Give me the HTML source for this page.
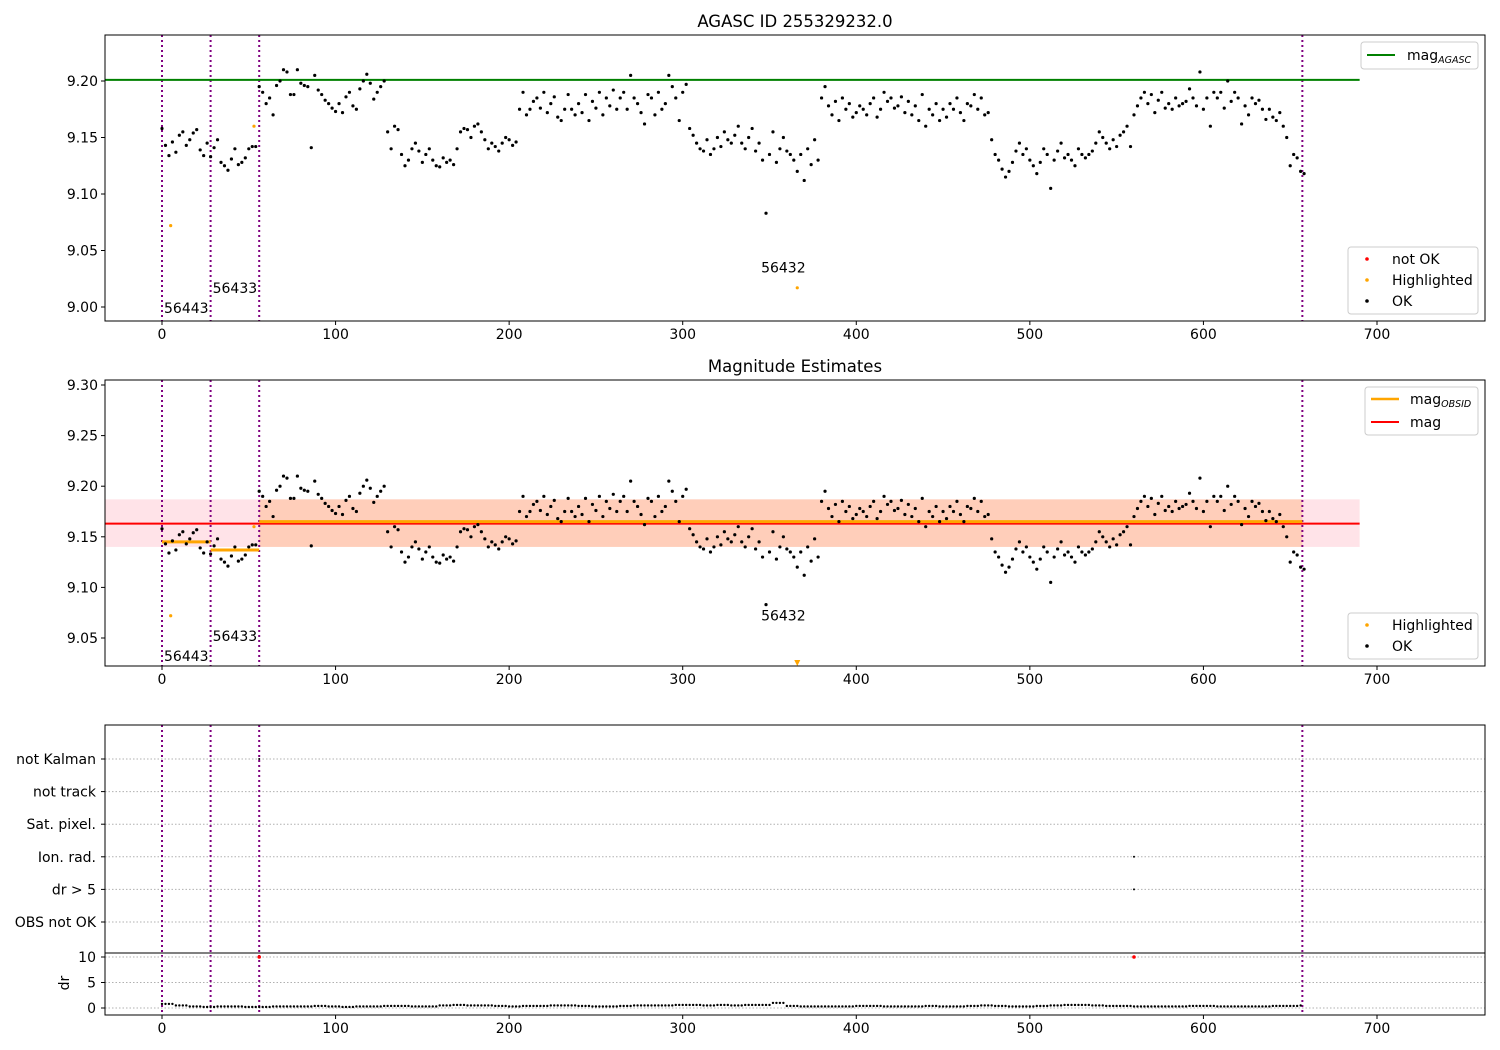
<!DOCTYPE html>
<html><head><meta charset="utf-8"><style>
body{margin:0;background:#fff}
svg{display:block;font-family:"DejaVu Sans","Liberation Sans",sans-serif}
</style></head><body>
<svg id="chart" width="1500" height="1050" viewBox="0 0 1500 1050"></svg>
<script>
// ---- data ----
const magStart = 0, magStep = 2;
const mags = [
9.158,9.143,9.134,9.146,9.137,9.152,9.155,9.143,9.148,9.154,9.157,9.139,9.134,9.145,
9.133,9.141,9.148,9.128,9.125,9.121,9.131,9.140,9.126,9.128,9.132,9.140,9.142,9.142,
9.195,9.19,9.18,9.185,9.17,9.196,9.2,9.21,9.208,9.188,9.188,9.21,9.198,9.196,9.195,9.141,9.205,9.192,9.188,9.183,9.18,9.176,9.173,9.18,9.172,9.186,9.19,9.178,9.175,9.193,9.2,9.206,9.198,9.184,9.19,9.195,9.2,
9.155,9.14,9.16,9.157,9.135,9.125,9.13,9.14,9.145,9.138,9.128,9.135,9.14,9.13,9.125,9.124,9.132,9.128,9.13,9.126,9.14,
9.155,9.158,9.157,9.15,9.16,9.162,9.155,9.148,9.14,9.145,9.142,9.138,9.145,9.15,9.148,9.143,9.146,
9.175,9.19,9.17,9.175,9.182,9.185,9.176,9.19,9.172,9.18,9.186,9.168,9.165,9.175,9.188,9.175,9.17,9.18,9.172,9.188,9.165,9.182,9.176,9.19,9.17,9.185,9.178,9.192,9.175,9.185,9.19,9.175,9.205,9.185,9.18,9.172,9.162,9.188,9.185,9.17,9.19,9.175,9.18,9.205,9.195,9.185,9.165,9.19,
9.197,9.158,9.152,9.145,9.14,9.138,9.148,9.135,9.14,9.15,9.142,9.155,9.148,9.145,9.152,9.16,9.145,9.14,9.15,9.158,9.138,9.145,9.13,9.083,9.135,9.155,9.128,9.14,9.15,9.138,9.135,9.13,9.12,9.135,9.112,9.14,9.126,9.148,9.13,
9.185,9.195,9.178,9.17,9.182,9.165,9.185,9.175,9.18,9.168,9.172,9.178,9.175,9.17,9.18,9.185,9.168,9.175,9.19,9.182,9.185,9.176,9.178,9.186,9.172,9.182,9.17,9.178,9.165,9.188,9.16,9.175,9.17,9.18,9.165,9.175,9.168,9.18,9.175,9.185,9.172,9.165,9.18,9.178,9.188,9.175,9.185,9.17,9.172,
9.148,9.135,9.13,9.122,9.115,9.12,9.128,9.138,9.145,9.135,9.14,9.13,9.125,9.118,9.128,9.14,9.135,9.105,9.13,9.138,9.145,9.132,9.135,9.13,9.125,9.14,9.135,9.132,9.135,9.138,9.145,9.155,9.15,9.145,9.14,9.148,9.142,9.152,9.155,9.16,
9.142,9.17,9.178,9.185,9.19,9.18,9.188,9.172,9.183,9.19,9.176,9.18,9.175,9.185,9.178,9.18,9.182,9.193,9.185,9.178,9.208,9.175,9.185,9.16,9.19,9.185,9.19,9.176,9.2,9.182,9.19,9.185,9.162,9.178,9.17,9.185,9.18,9.183,9.175,9.166,9.175,9.168,9.165,9.172,9.16,
9.15,9.125,9.135,9.132,9.12,9.118];
const hiIdx = [5, 53, 366];
const hiMag = [9.072, 9.16, 9.017];
const obsBounds = [0, 28, 56, 657];
const obsNames = ["56443", "56433", "56432"];
const obsLabelIdx = [0, 28, 344];
const obsLabelMag = [8.999, 9.017, 9.035];
const obsMeans = [9.145, 9.137, 9.165];
const magAgasc = 9.201, magMean = 9.163, magLo = 9.140, magHi = 9.187;
const drStep = 8;
const drVals = [0.8,0.5,0.3,0.2,0.3,0.3,0.2,0.2,0.3,0.3,0.3,0.4,0.3,0.2,0.3,0.3,0.4,0.4,0.3,0.3,0.5,0.6,0.5,0.5,0.4,0.3,0.4,0.4,0.5,0.5,0.4,0.3,0.3,0.4,0.5,0.5,0.5,0.6,0.6,0.5,0.6,0.5,0.6,0.6,1.0,0.4,0.3,0.3,0.3,0.3,0.4,0.4,0.3,0.3,0.3,0.4,0.3,0.3,0.4,0.5,0.4,0.3,0.3,0.4,0.5,0.6,0.6,0.5,0.4,0.4,0.3,0.3,0.3,0.3,0.4,0.4,0.3,0.3,0.3,0.3,0.4,0.4,0.5];
const drRedIdx = [56, 560];
const drRedVal = [10, 10];
const flagNames = ["not Kalman","not track","Sat. pixel.","Ion. rad.","dr > 5","OBS not OK"];
const flagIdx = [56, 560, 560];
const flagRow = [0, 3, 4];
const xTicks = [0,100,200,300,400,500,600,700];
const yTicksA = [9.00,9.05,9.10,9.15,9.20];
const yTicksB = [9.05,9.10,9.15,9.20,9.25,9.30];
const drTicks = [0,5,10];

// ---- scales ----
const X = v => 162 + v*1.7357;
const YA = m => 81 + (9.2-m)*1130;
const YB = m => 385 + (9.3-m)*1012;
const YD = d => 1008 - d*5.1;
const flagY = i => 759 + i*32.6;

const svg = document.getElementById('chart');
const NS = 'http://www.w3.org/2000/svg';
const FS = 14;
function mk(tag, attrs, parent){const e=document.createElementNS(NS,tag);for(const k in attrs)e.setAttribute(k,attrs[k]);(parent||svg).appendChild(e);return e;}
function txt(x,y,s,anchor,size,parent){const t=mk('text',{x:x,y:y,'text-anchor':anchor||'start','font-size':size||FS,fill:'#000'},parent);t.textContent=s;return t;}

const L=105,R=1485;
function clip(id,y0,y1){const c=mk('clipPath',{id:id});mk('rect',{x:L,y:y0,width:R-L,height:y1-y0},c);}
clip('ca',35,321);clip('cb',380,666);clip('cd',953,1015);

function xAxis(yb,name){
  const g=mk('g',{});
  
  
  xTicks.forEach(v=>{mk('line',{x1:X(v),x2:X(v),y1:yb,y2:yb+4,stroke:'#000'},g);txt(X(v),yb+18,String(v),'middle',FS,g);});
}
function vlines(g,y0,y1){obsBounds.forEach(b=>{const l=mk('line',{x1:X(b),x2:X(b),y1:y0,y2:y1,stroke:'#800080','stroke-width':2,'stroke-dasharray':'2,3'},g);});}
function dots(g,Y){mags.forEach((m,i)=>{const c=mk('circle',{cx:X(magStart+i*magStep),cy:Y(m),r:1.6,fill:'#000'},g);});}

// ===== Panel A =====
const ga=mk('g',{'clip-path':'url(#ca)'});


vlines(ga,35,321);
const gl=mk('line',{x1:L,x2:X(690),y1:YA(magAgasc),y2:YA(magAgasc),stroke:'#008000','stroke-width':2},ga);


dots(ga,YA);
hiIdx.forEach((v,i)=>{const c=mk('circle',{cx:X(v),cy:YA(hiMag[i]),r:1.6,fill:'orange'},ga);});
obsNames.forEach((n,i)=>{const t=txt(X(obsLabelIdx[i])+2,YA(obsLabelMag[i])+5,n,'start',FS,ga);});
mk('rect',{x:L,y:35,width:R-L,height:286,fill:'none',stroke:'#000'});
xAxis(321,'x-axis-top');
yTicksA.forEach(v=>{mk('line',{x1:L-4,x2:L,y1:YA(v),y2:YA(v),stroke:'#000'});txt(L-7,YA(v)+5,v.toFixed(2),'end');});
const t1=txt(795,27,'AGASC ID 255329232.0','middle',16.5);



// ===== Panel B =====
const gb=mk('g',{'clip-path':'url(#cb)'});


mk('rect',{x:L,y:YB(magHi),width:X(690)-L,height:YB(magLo)-YB(magHi),fill:'#ffc0cb',opacity:0.45},gb);
mk('rect',{x:X(obsBounds[2]),y:YB(magHi),width:X(obsBounds[3])-X(obsBounds[2]),height:YB(magLo)-YB(magHi),fill:'#ffa050',opacity:0.3},gb);
vlines(gb,380,666);
const rl=mk('line',{x1:L,x2:X(690),y1:YB(magMean),y2:YB(magMean),stroke:'red','stroke-width':2},gb);


obsMeans.forEach((m,i)=>{const l=mk('line',{x1:X(obsBounds[i]),x2:X(obsBounds[i+1]),y1:YB(m),y2:YB(m),stroke:'orange','stroke-width':3},gb);});
dots(gb,YB);
hiIdx.forEach((v,i)=>{if(hiMag[i]<9.0223){const p=mk('path',{d:`M${X(v)-3},${660} L${X(v)+3},${660} L${X(v)},${666} Z`,fill:'orange'},gb);}else{const c=mk('circle',{cx:X(v),cy:YB(hiMag[i]),r:1.6,fill:'orange'},gb);}});
const obsLabelB=[9.032,9.052,9.072];
obsNames.forEach((n,i)=>{const t=txt(X(obsLabelIdx[i])+2,YB(obsLabelB[i])+5,n,'start',FS,gb);});
mk('rect',{x:L,y:380,width:R-L,height:286,fill:'none',stroke:'#000'});
xAxis(666,'x-axis-middle');
yTicksB.forEach(v=>{mk('line',{x1:L-4,x2:L,y1:YB(v),y2:YB(v),stroke:'#000'});txt(L-7,YB(v)+5,v.toFixed(2),'end');});
const t2=txt(795,372,'Magnitude Estimates','middle',16.5);



// ===== Panel C flags =====
const gc=mk('g',{});


flagNames.forEach((n,i)=>{mk('line',{x1:L,x2:R,y1:flagY(i),y2:flagY(i),stroke:'#b0b0b0','stroke-dasharray':'1.5,2'},gc);mk('line',{x1:L-4,x2:L,y1:flagY(i),y2:flagY(i),stroke:'#000'},gc);const t=txt(L-9,flagY(i)+5,n,'end',FS,gc);});
vlines(gc,725,1015);
flagIdx.forEach((v,i)=>{const c=mk('circle',{cx:X(v),cy:flagY(flagRow[i]),r:1,fill:'#000'},gc);});
// dr
const gd=mk('g',{'clip-path':'url(#cd)'});


drTicks.forEach(v=>mk('line',{x1:L,x2:R,y1:YD(v),y2:YD(v),stroke:'#b0b0b0','stroke-dasharray':'1.5,2'},gd));
drVals.forEach((d,i)=>{for(let k=0;k<drStep;k+=2){const idx=i*drStep+k;if(idx>657)continue;const c=mk('circle',{cx:X(idx),cy:YD(d),r:1.2,fill:'#000'},gd);}});
drRedIdx.forEach((v,i)=>{const c=mk('circle',{cx:X(v),cy:YD(drRedVal[i]),r:1.8,fill:'red'},gd);});
mk('rect',{x:L,y:725,width:R-L,height:290,fill:'none',stroke:'#000'});
mk('line',{x1:L,x2:R,y1:953,y2:953,stroke:'#000'});
drTicks.forEach(v=>{mk('line',{x1:L-4,x2:L,y1:YD(v),y2:YD(v),stroke:'#000'});txt(L-9,YD(v)+5,String(v),'end');});
const dl=txt(0,0,'dr','middle',FS);
dl.setAttribute('transform','translate(69,983) rotate(-90)');


xAxis(1015,'x-axis-bottom');

// ===== Legends =====
function legendBox(x,y,w,h,name){const r=mk('rect',{x:x,y:y,width:w,height:h,fill:'#fff',stroke:'#ccc',rx:3});}
legendBox(1361,42,117,27,'legend-agasc');
mk('line',{x1:1367,x2:1395,y1:55,y2:55,stroke:'#008000','stroke-width':2});
const la=txt(1407,60,'mag','start',FS);const sa=mk('tspan',{'font-size':9.5,dy:3,'font-style':'italic'},la);sa.textContent='AGASC';
function ptLegend(x,y,items,name){legendBox(x,y,130,items.length*21+4,name);items.forEach((it,i)=>{mk('circle',{cx:x+19,cy:y+12+i*21,r:1.8,fill:it[0]});const t=txt(x+44,y+17+i*21,it[1]);});}
ptLegend(1348,247,[['red','not OK'],['orange','Highlighted'],['#000','OK']],'legend-status-top');
legendBox(1365,387,113,48,'legend-mag');
mk('line',{x1:1371,x2:1399,y1:399,y2:399,stroke:'orange','stroke-width':2.5});
const lb=txt(1410,404,'mag','start',FS);const sb=mk('tspan',{'font-size':9.5,dy:3,'font-style':'italic'},lb);sb.textContent='OBSID';
mk('line',{x1:1371,x2:1399,y1:422,y2:422,stroke:'red','stroke-width':2});
txt(1410,427,'mag');
ptLegend(1348,613,[['orange','Highlighted'],['#000','OK']],'legend-status-middle');
</script>
</body></html>
